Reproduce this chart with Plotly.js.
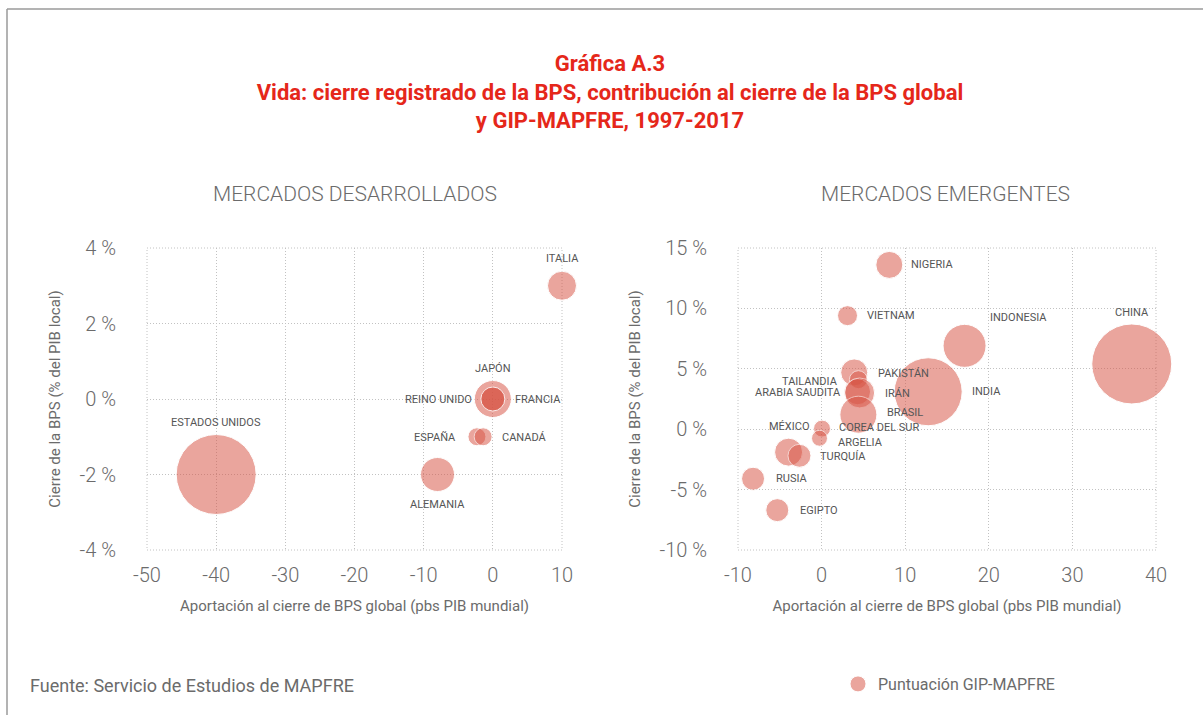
<!DOCTYPE html>
<html>
<head>
<meta charset="utf-8">
<script src="https://cdn.plot.ly/plotly-3.0.1.min.js"></script>
<style>
  html, body { margin: 0; padding: 0; background: #ffffff; }
  #chart { width: 1203px; height: 715px; }
</style>
</head>
<body>
<div id="chart"></div>
<script>
// ---------- Data ----------
// Mercados desarrollados
const devNames = ['ESTADOS UNIDOS', 'ALEMANIA', 'ITALIA', 'JAPÓN', 'REINO UNIDO', 'FRANCIA', 'ESPAÑA', 'CANADÁ'];
const devContribution = [-40, -8, 10, 0, 0, 0, -2.3, -1.4];          // pbs PIB mundial
const devGapClose = [-2, -2, 3, 0, 0, 0, -1, -1];                    // % del PIB local
const devGip = [80, 34, 29, 37, 24, 24, 18, 18];                     // puntuación GIP-MAPFRE (tamaño)

// Mercados emergentes
const emNames = ['CHINA', 'INDIA', 'INDONESIA', 'NIGERIA', 'VIETNAM', 'PAKISTÁN', 'TAILANDIA',
                 'ARABIA SAUDITA', 'IRÁN', 'BRASIL', 'MÉXICO', 'COREA DEL SUR', 'ARGELIA',
                 'TURQUÍA', 'RUSIA', 'EGIPTO'];
const emContribution = [37.1, 12.75, 17.1, 8.1, 3.1, 3.9, 4.4, 4.3, 4.55, 4.4, -3.95, 0.05, -0.25, -2.65, -8.2, -5.3];
const emGapClose = [5.4, 3.1, 6.9, 13.6, 9.4, 4.7, 4.1, 3.1, 3.0, 1.2, -1.9, 0.05, -0.75, -2.2, -4.1, -6.7];
const emGip = [80, 68, 43, 27, 20, 27, 18, 26, 30, 37, 28, 17, 16, 23, 23, 23];

// Tick labels
const devXTicks = [-50, -40, -30, -20, -10, 0, 10];
const devXTickText = ['-50', '-40', '-30', '-20', '-10', '0', '10'];
const devYTicks = [-4, -2, 0, 2, 4];
const devYTickText = ['-4 %', '-2 %', '0 %', '2 %', '4 %'];
const emXTicks = [-10, 0, 10, 20, 30, 40];
const emXTickText = ['-10', '0', '10', '20', '30', '40'];
const emYTicks = [-10, -5, 0, 5, 10, 15];
const emYTickText = ['-10 %', '-5 %', '0 %', '5 %', '10 %', '15 %'];

// ---------- Label placement (style only: anchor + pixel offset) ----------
const labelPlacement = {
  'ESTADOS UNIDOS': ['center', 0, 52],
  'ALEMANIA': ['center', 0, -30],
  'ITALIA': ['center', 0, 27],
  'JAPÓN': ['center', 0, 31],
  'REINO UNIDO': ['right', -19, 0],
  'FRANCIA': ['left', 20, 0],
  'ESPAÑA': ['right', -19, -1],
  'CANADÁ': ['left', 17, -1],
  'CHINA': ['center', 0, 51],
  'INDIA': ['left', 42, 0],
  'INDONESIA': ['left', 23, 28],
  'NIGERIA': ['left', 20, 0],
  'VIETNAM': ['left', 17, 0],
  'PAKISTÁN': ['left', 22, -1],
  'TAILANDIA': ['right', -18, -2],
  'ARABIA SAUDITA': ['right', -15, -1],
  'IRÁN': ['left', 23, -1],
  'BRASIL': ['left', 27, 2],
  'MÉXICO': ['center', 0, 26],
  'COREA DEL SUR': ['left', 15, 1],
  'ARGELIA': ['left', 16, -4],
  'TURQUÍA': ['left', 19, -1],
  'RUSIA': ['left', 21, 0],
  'EGIPTO': ['left', 21, 0]
};

const FONT = 'Roboto, "DejaVu Sans", sans-serif';
const GREY = '#6b6b6b';
const LABEL_GREY = '#555555';
const BUBBLE = 'rgb(216,84,68)';
const GRID = '#c2c2c2';
const GRID_DASH = '1px,2px';

function bubbleTrace(names, xs, ys, sizes, xa, ya, showLegend) {
  return {
    type: 'scatter', mode: 'markers',
    x: xs, y: ys, text: names,
    xaxis: xa, yaxis: ya,
    name: 'Puntuación GIP-MAPFRE',
    showlegend: showLegend,
    cliponaxis: false,
    hovertemplate: '%{text}<br>%{x}, %{y}%<extra></extra>',
    marker: {
      size: sizes, sizemode: 'diameter', sizeref: 1,
      color: BUBBLE, opacity: 0.52,
      line: { color: '#ffffff', width: 1 }
    }
  };
}

function labelAnnotations(names, xs, ys, xref, yref) {
  return names.map(function (n, i) {
    const p = labelPlacement[n];
    return {
      x: xs[i], y: ys[i], xref: xref, yref: yref,
      text: n, showarrow: false,
      xanchor: p[0], yanchor: 'middle',
      xshift: p[1], yshift: p[2],
      font: { family: FONT, size: 11, color: LABEL_GREY }
    };
  });
}

const traces = [
  bubbleTrace(devNames, devContribution, devGapClose, devGip, 'x', 'y', true),
  bubbleTrace(emNames, emContribution, emGapClose, emGip, 'x2', 'y2', false)
];

const W = 1203, H = 715;
const px = v => v / W;
const py = v => 1 - v / H;

function xAxis(domain, range, vals, text, anchor) {
  return {
    domain: domain, range: range, anchor: anchor,
    tickmode: 'array', tickvals: vals, ticktext: text,
    showgrid: true, gridcolor: GRID, gridwidth: 1, griddash: GRID_DASH,
    zeroline: false, showline: false,
    ticks: 'outside', ticklen: 7, tickcolor: 'rgba(0,0,0,0)',
    tickfont: { family: FONT, size: 20, color: GREY, weight: 300 },
    title: { text: 'Aportación al cierre de BPS global (pbs PIB mundial)',
             font: { family: FONT, size: 15, color: GREY }, standoff: 14 },
    fixedrange: true
  };
}
function yAxis(domain, range, vals, text, anchor) {
  return {
    domain: domain, range: range, anchor: anchor,
    tickmode: 'array', tickvals: vals, ticktext: text,
    showgrid: true, gridcolor: GRID, gridwidth: 1, griddash: GRID_DASH,
    zeroline: false, showline: false,
    ticks: 'outside', ticklen: 26, tickcolor: 'rgba(0,0,0,0)',
    tickfont: { family: FONT, size: 20, color: GREY, weight: 300 },
    title: { text: 'Cierre de la BPS (% del PIB local)',
             font: { family: FONT, size: 15, color: GREY }, standoff: 15 },
    fixedrange: true
  };
}

function frame(xd, yd) {
  return { type: 'rect', xref: xd, yref: yd, x0: 0, x1: 1, y0: 0, y1: 1,
           line: { color: GRID, width: 1, dash: GRID_DASH }, layer: 'below' };
}

const yDom = [py(550), py(248)];

const layout = {
  width: W, height: H,
  margin: { l: 0, r: 0, t: 0, b: 0, pad: 0 },
  paper_bgcolor: '#ffffff', plot_bgcolor: '#ffffff',
  font: { family: FONT, color: GREY },
  title: {
    text: 'Gráfica A.3<br>Vida: cierre registrado de la BPS, contribución al cierre de la BPS global<br>y GIP-MAPFRE, 1997-2017',
    font: { family: FONT, size: 22, color: '#e5271a', weight: 700 },
    x: px(610), xanchor: 'center', xref: 'paper',
    y: py(71), yanchor: 'middle', yref: 'container'
  },
  xaxis: xAxis([px(147), px(562)], [-50, 10], devXTicks, devXTickText, 'y'),
  yaxis: yAxis(yDom, [-4, 4], devYTicks, devYTickText, 'x'),
  xaxis2: xAxis([px(738), px(1156)], [-10, 40], emXTicks, emXTickText, 'y2'),
  yaxis2: yAxis(yDom, [-10, 15], emYTicks, emYTickText, 'x2'),
  showlegend: true,
  legend: {
    x: px(838), y: py(684), xanchor: 'left', yanchor: 'middle',
    orientation: 'h', bgcolor: 'rgba(0,0,0,0)',
    font: { family: FONT, size: 16, color: GREY },
    itemsizing: 'trace'
  },
  shapes: [
    { type: 'line', xref: 'paper', yref: 'paper', x0: px(7), x1: 1, y0: py(9), y1: py(9),
      line: { color: '#9a9a9a', width: 1.5 } },
    { type: 'line', xref: 'paper', yref: 'paper', x0: px(7), x1: px(7), y0: 0, y1: py(9),
      line: { color: '#9a9a9a', width: 1.5 } },
    frame('x domain', 'y domain'),
    frame('x2 domain', 'y2 domain')
  ],
  annotations: [
    { text: 'MERCADOS DESARROLLADOS', xref: 'paper', yref: 'paper', x: px(355), y: py(194),
      xanchor: 'center', yanchor: 'middle', showarrow: false,
      font: { family: FONT, size: 21, color: GREY, weight: 300 } },
    { text: 'MERCADOS EMERGENTES', xref: 'paper', yref: 'paper', x: px(945), y: py(194),
      xanchor: 'center', yanchor: 'middle', showarrow: false,
      font: { family: FONT, size: 21, color: GREY, weight: 300 } },
    { text: 'Fuente: Servicio de Estudios de MAPFRE', xref: 'paper', yref: 'paper',
      x: px(28), y: py(685), xanchor: 'left', yanchor: 'middle', showarrow: false,
      font: { family: FONT, size: 18, color: GREY } }
  ].concat(
    labelAnnotations(devNames, devContribution, devGapClose, 'x', 'y'),
    labelAnnotations(emNames, emContribution, emGapClose, 'x2', 'y2')
  )
};

Plotly.newPlot('chart', traces, layout, { displayModeBar: false, staticPlot: true });
</script>
</body>
</html>
